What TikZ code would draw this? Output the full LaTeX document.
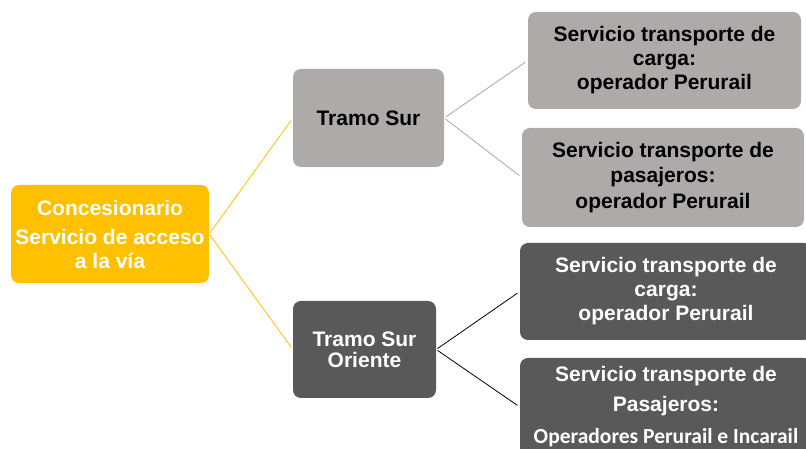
\documentclass[tikz,border=0pt]{standalone}
\usepackage{fontspec}
\setmainfont{Liberation Sans}
\newfontfamily\calibri{Carlito}
\usepackage{xcolor}
\definecolor{amarillo}{HTML}{FFC000}
\definecolor{grisclaro}{HTML}{AEAAAA}
\definecolor{grisoscuro}{HTML}{595959}
\definecolor{gristrazo}{HTML}{A6A6A6}

\begin{document}
\begin{tikzpicture}[x=1pt,y=1pt,
  caja/.style={rounded corners=8pt,align=center,inner sep=2pt,font=\bfseries\fontsize{21}{24}\selectfont},
  raiz/.style={caja,fill=amarillo,text=white},
  claro/.style={caja,fill=grisclaro,text=black},
  oscuro/.style={caja,fill=grisoscuro,text=white},
  linea/.style={line width=0.8pt,shorten <=1.5pt,shorten >=3pt}]
  \useasboundingbox (0,0) rectangle (806,449);
  \clip (0,0) rectangle (806,449);

  \node[raiz,minimum width=198pt,minimum height=98pt]   (A) at (110,215)   {Concesionario\\[5pt]Servicio de acceso\\a la vía};
  \node[claro,minimum width=151pt,minimum height=98pt]  (B) at (368.5,331) {Tramo Sur};
  \node[oscuro,minimum width=143pt,minimum height=97pt] (C) at (364.5,99.5) {Tramo Sur\\[-3pt]Oriente};
  \node[claro,minimum width=273pt,minimum height=97pt]  (D) at (664.5,388.5) {Servicio transporte de\\carga:\\operador Perurail};
  \node[claro,minimum width=282pt,minimum height=99pt]  (E) at (663,271.5) {Servicio transporte de\\[1.5pt]pasajeros:\\[1.5pt]operador Perurail};
  \node[oscuro,minimum width=292pt,minimum height=97pt] (F) at (666,157.5) {Servicio transporte de\\carga:\\operador Perurail};
  \node[oscuro,minimum width=292pt,minimum height=98pt] (G) at (666,42) {Servicio transporte de\\[6pt]Pasajeros:\\[8pt]{\calibri\fontsize{21.5}{24}\selectfont Operadores Perurail e Incarail}};

  \path[linea,amarillo]  (A.east) edge (B.west)
                                  edge (C.west);
  \path[linea,gristrazo] (B.east) edge (D.west)
                                  edge (E.west);
  \path[linea,black]     (C.east) edge (F.west)
                                  edge (G.west);
\end{tikzpicture}
\end{document}
